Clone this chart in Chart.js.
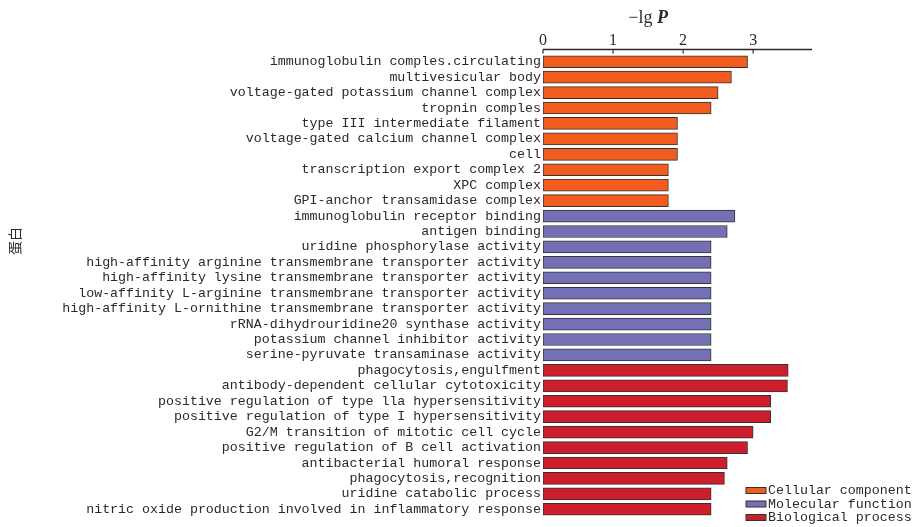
<!DOCTYPE html>
<html>
<head>
<meta charset="utf-8">
<script src="https://cdn.jsdelivr.net/npm/chart.js@4/dist/chart.umd.min.js"></script>
<style>
  html, body { margin: 0; padding: 0; background: #fff; }
  #wrap { width: 916px; height: 527px; }
</style>
</head>
<body>
<div id="wrap"><canvas id="c" width="916" height="527"></canvas></div>
<script>
// GO terms, top to bottom
const categories = [
  'immunoglobulin comples.circulating',
  'multivesicular body',
  'voltage-gated potassium channel complex',
  'tropnin comples',
  'type III intermediate filament',
  'voltage-gated calcium channel complex',
  'cell',
  'transcription export complex 2',
  'XPC complex',
  'GPI-anchor transamidase complex',
  'immunoglobulin receptor binding',
  'antigen binding',
  'uridine phosphorylase activity',
  'high-affinity arginine transmembrane transporter activity',
  'high-affinity lysine transmembrane transporter activity',
  'low-affinity L-arginine transmembrane transporter activity',
  'high-affinity L-ornithine transmembrane transporter activity',
  'rRNA-dihydrouridine20 synthase activity',
  'potassium channel inhibitor activity',
  'serine-pyruvate transaminase activity',
  'phagocytosis,engulfment',
  'antibody-dependent cellular cytotoxicity',
  'positive regulation of type lla hypersensitivity',
  'positive regulation of type I hypersensitivity',
  'G2/M transition of mitotic cell cycle',
  'positive regulation of B cell activation',
  'antibacterial humoral response',
  'phagocytosis,recognition',
  'uridine catabolic process',
  'nitric oxide production involved in inflammatory response'
];

// -lg P per group
const cellularValues   = [2.92, 2.69, 2.50, 2.40, 1.92, 1.92, 1.92, 1.79, 1.79, 1.79];
const molecularValues  = [2.74, 2.63, 2.40, 2.40, 2.40, 2.40, 2.40, 2.40, 2.40, 2.40];
const biologicalValues = [3.50, 3.49, 3.25, 3.25, 3.00, 2.92, 2.63, 2.59, 2.40, 2.40];

const xTickValues = [0, 1, 2, 3];
const groupNames  = ['Cellular component', 'Molecular function', 'Biological process'];
const groupColors = ['#F25C1F', '#7470B5', '#CC1F2B'];
const xTitleParts = ['\u2212lg ', 'P'];
const yTitle      = '蛋白';

// place each group's values in its own rows, blank elsewhere
const groups = [cellularValues, molecularValues, biologicalValues];
let offset = 0;
const datasets = groups.map((vals, g) => {
  const data = categories.map((_, i) => (i >= offset && i < offset + vals.length) ? vals[i - offset] : null);
  offset += vals.length;
  return {
    label: groupNames[g],
    data,
    backgroundColor: groupColors[g],
    borderColor: '#333333',
    borderWidth: 1,
    borderSkipped: false,
    barThickness: 12,
    grouped: false
  };
});

const TEXT = '#2a2a2a';
const MONO = '"Liberation Mono", "DejaVu Sans Mono", monospace';
const SERIF = '"Liberation Serif", "DejaVu Serif", serif';

const decorations = {
  id: 'decorations',
  afterDraw(chart) {
    const { ctx, chartArea, scales } = chart;
    const xs = scales.x;
    ctx.save();

    // top value axis with inward ticks
    const axisY = chartArea.top - 4.5;
    ctx.strokeStyle = TEXT;
    ctx.lineWidth = 1.5;
    ctx.beginPath();
    ctx.moveTo(chartArea.left, axisY);
    ctx.lineTo(chartArea.right, axisY);
    ctx.stroke();
    ctx.lineWidth = 1.2;
    xTickValues.forEach(v => {
      const px = xs.getPixelForValue(v);
      ctx.beginPath();
      ctx.moveTo(px, axisY);
      ctx.lineTo(px, axisY + 4);
      ctx.stroke();
    });

    // axis title: −lg P
    ctx.fillStyle = TEXT;
    ctx.textBaseline = 'middle';
    const f1 = '18px ' + SERIF;
    const f2 = 'italic bold 18px ' + SERIF;
    ctx.font = f1;
    const w1 = ctx.measureText(xTitleParts[0]).width;
    ctx.font = f2;
    const w2 = ctx.measureText(xTitleParts[1]).width;
    const cx = xs.getPixelForValue(1.5);
    const tx = cx - (w1 + w2) / 2;
    ctx.textAlign = 'left';
    ctx.font = f1;
    ctx.fillText(xTitleParts[0], tx, 18);
    ctx.font = f2;
    ctx.fillText(xTitleParts[1], tx + w1, 18);

    // vertical category-axis title
    ctx.save();
    ctx.translate(15, 241);
    ctx.rotate(-Math.PI / 2);
    ctx.textAlign = 'center';
    ctx.font = '14px "Noto Sans CJK SC", sans-serif';
    ctx.fillText(yTitle, 0, 0);
    ctx.restore();

    // legend, bottom right
    ctx.font = '13.3px ' + MONO;
    ctx.textAlign = 'left';
    groupNames.forEach((name, i) => {
      const y = 490.5 + i * 13.5;
      ctx.fillStyle = groupColors[i];
      ctx.fillRect(746, y - 3, 20, 6);
      ctx.strokeStyle = '#333333';
      ctx.lineWidth = 1;
      ctx.strokeRect(746, y - 3, 20, 6);
      ctx.fillStyle = TEXT;
      ctx.fillText(name, 768, y);
    });

    ctx.restore();
  }
};

new Chart(document.getElementById('c'), {
  type: 'bar',
  data: { labels: categories, datasets },
  options: {
    indexAxis: 'y',
    responsive: false,
    animation: false,
    devicePixelRatio: 1,
    layout: { padding: { left: 0, right: 104, top: 0, bottom: 10 } },
    plugins: { legend: { display: false }, tooltip: { enabled: false } },
    scales: {
      x: {
        type: 'linear',
        position: 'top',
        min: 0,
        max: 3.84,
        grid: { display: false, drawTicks: false },
        border: { display: false },
        ticks: { padding: 4, color: TEXT, font: { family: SERIF, size: 16 } },
        afterBuildTicks: s => { s.ticks = xTickValues.map(v => ({ value: v })); },
        afterFit: s => { s.height = 54; }
      },
      y: {
        type: 'category',
        grid: { display: false, drawTicks: false },
        border: { display: false },
        ticks: { padding: 2, autoSkip: false, color: TEXT, font: { family: MONO, size: 13.3 } },
        afterFit: s => { s.width = 543; }
      }
    }
  },
  plugins: [decorations]
});
</script>
</body>
</html>
